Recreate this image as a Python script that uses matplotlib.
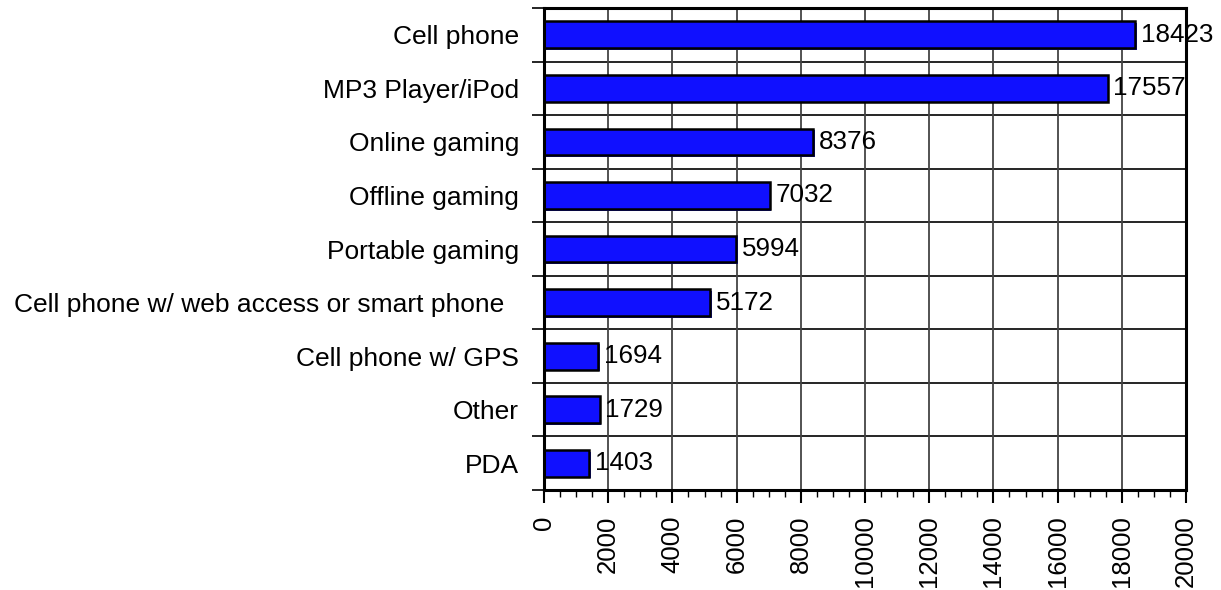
import matplotlib
matplotlib.use("Agg")
import matplotlib.pyplot as plt
from matplotlib.ticker import MultipleLocator
import matplotlib.patheffects as pe
import numpy as np

plt.rcParams['font.family'] = ['Liberation Sans', 'DejaVu Sans']

categories = ["Cell phone", "MP3 Player/iPod", "Online gaming", "Offline gaming",
              "Portable gaming", "Cell phone w/ web access or smart phone  ",
              "Cell phone w/ GPS", "Other", "PDA"]
values = [18423, 17557, 8376, 7032, 5994, 5172, 1694, 1729, 1403]
xticks = [0, 2000, 4000, 6000, 8000, 10000, 12000, 14000, 16000, 18000, 20000]

fig = plt.figure(figsize=(12.21, 5.9), dpi=100)
ax = fig.add_axes([544/1221, 1-490/590, (1186-544)/1221, (490-8)/590])

n = len(categories)
y = np.arange(n)[::-1]
h = 0.5
bars = ax.barh(y, values, height=h, color='#1010ff', edgecolor='black', linewidth=1.8, zorder=3)
for b in bars:
    b.set_path_effects([pe.SimplePatchShadow(offset=(1.2, -1.2), shadow_rgbFace='#1a1aff', alpha=1.0),
                        pe.Normal()])

for yi, v in zip(y, values):
    ax.text(v + 180, yi, str(v), va='center', ha='left', fontsize=18.7, zorder=4)

ax.set_xlim(0, 20000)
ax.set_ylim(-0.5, n - 0.5)
ax.set_xticks(xticks)
ax.set_xticklabels([str(t) for t in xticks], rotation=90, fontsize=18.5)
ax.xaxis.set_minor_locator(MultipleLocator(500))
ax.tick_params(axis='x', which='major', length=9.4, width=1.5, direction='out', pad=9)
ax.tick_params(axis='x', which='minor', length=5, width=1, direction='out')

bounds = np.arange(n + 1) - 0.5
ax.set_yticks(bounds, minor=True)
ax.set_yticks(y)
ax.set_yticklabels(categories, fontsize=19)
ax.tick_params(axis='y', which='major', length=0, pad=18)
ax.tick_params(axis='y', which='minor', length=8.6, width=1.2, direction='out')

for b in bounds:
    ax.axhline(b, color='black', linewidth=1.2, zorder=1)
for t in xticks:
    ax.axvline(t, color='#444444', linewidth=1.3, zorder=1)

for s in ax.spines.values():
    s.set_linewidth(2.2)
    s.set_zorder(5)

fig.savefig('out.png', dpi=100)
